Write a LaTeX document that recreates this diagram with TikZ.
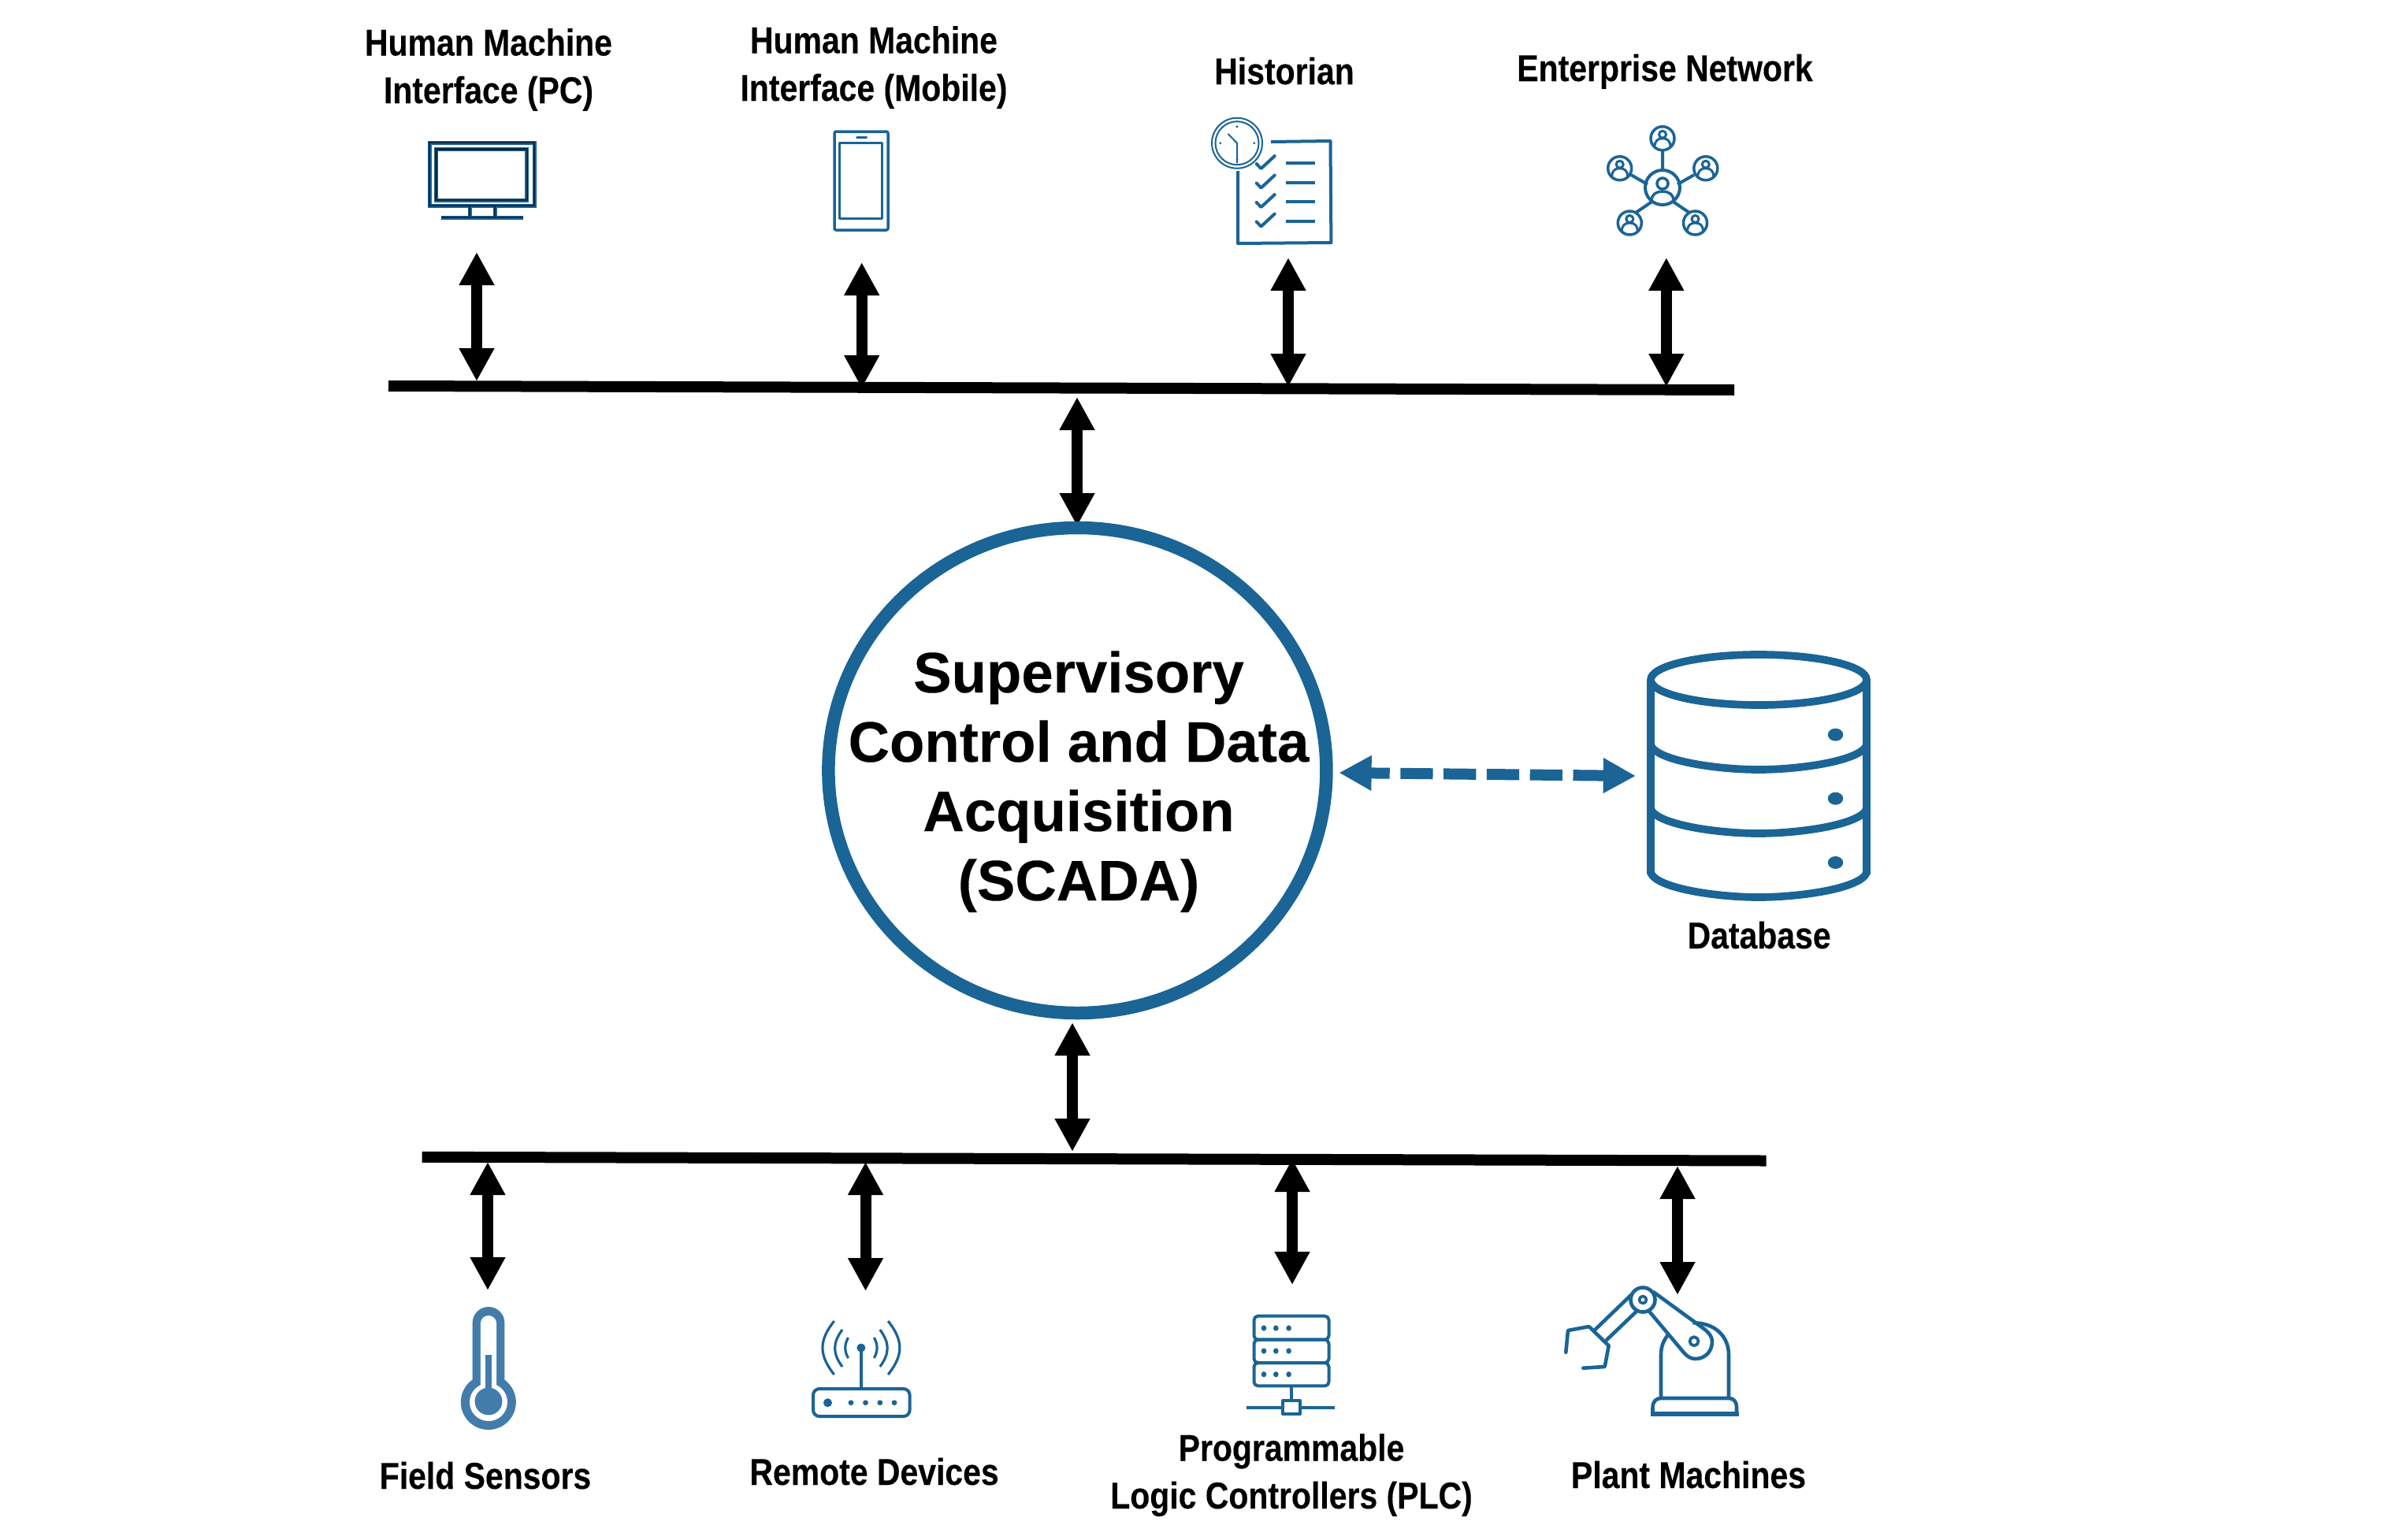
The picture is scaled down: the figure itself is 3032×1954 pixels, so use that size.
\documentclass[tikz,border=0pt]{standalone}
\usepackage{fontspec}
\usetikzlibrary{arrows.meta}
\setmainfont{Liberation Sans}
\newfontfamily\narrowbold[FakeStretch=0.862,FakeBold=0.2]{Liberation Sans Bold}
\newfontfamily\titlebold[FakeBold=0.15]{Liberation Sans Bold}
\definecolor{iconblue}{HTML}{1A6496}
\definecolor{thermoblue}{HTML}{427CAB}
\definecolor{darkcore}{HTML}{0B2A44}
\tikzset{
  lbl/.style={font=\narrowbold\fontsize{47.5}{60.5}\selectfont,inner sep=0pt,anchor=base,align=center,text=black},
  title/.style={font=\titlebold\fontsize{72.6}{88}\selectfont,inner sep=0pt,anchor=base,align=center,text=black},
  busline/.style={line width=14pt,black},
  linkarrow/.style={line width=14pt,black,{Triangle[length=42pt,width=42pt]}-{Triangle[length=42pt,width=42pt]}},
  dbarrow/.style={line width=14pt,iconblue,dash pattern=on 41.2pt off 13.6pt,dash phase=15.5pt,{Triangle[length=41.2pt,width=42pt]}-{Triangle[length=41.2pt,width=42pt]}},
  ico/.style={iconblue,line width=4pt,line join=round},
  person/.pic={
    \draw[iconblue,line width=3pt] (0,-5) circle[radius=4.5];
    \draw[iconblue,line width=3pt] (-10,11) .. controls (-10,3) and (-6,0) .. (0,0) .. controls (6,0) and (10,3) .. (10,11);
    \draw[iconblue,line width=3.5pt] (0,0) circle[radius=15];
  }
}
\begin{document}
\begin{tikzpicture}[x=1pt,y=-1pt]
\useasboundingbox (0,0) rectangle (3032,1954);
% text labels
\node[lbl] (hmipc) at (620,131) {Human Machine\\Interface (PC)};
\node[lbl] (hmimob) at (1109,128) {Human Machine\\Interface (Mobile)};
\node[lbl] (hist) at (1630,107) {Historian};
\node[lbl] (ent) at (2113,103) {Enterprise Network};
\node[lbl] (dblabel) at (2232.6,1204) {Database};
\node[lbl] (field) at (616,1890) {Field Sensors};
\node[lbl] (remote) at (1109.6,1885) {Remote Devices};
\node[lbl] (plc) at (1639,1915) {Programmable\\Logic Controllers (PLC)};
\node[lbl] (plant) at (2143,1889) {Plant Machines};
% buses
\coordinate (topL) at (493,490); \coordinate (topR) at (2201,495);
\coordinate (botL) at (535.7,1468.8); \coordinate (botR) at (2241.5,1473.5);
\draw[busline] (topL) -- (topR);
\draw[busline] (botL) -- (botR);
% arrow end points
\coordinate (a1t) at (605,320); \coordinate (a1b) at (605,484);
\coordinate (a2t) at (1093.7,333); \coordinate (a2b) at (1093.7,493);
\coordinate (a3t) at (1635,327); \coordinate (a3b) at (1635,491);
\coordinate (a4t) at (2114.8,327); \coordinate (a4b) at (2114.8,491);
\coordinate (c1t) at (1367,504); \coordinate (c1b) at (1367,668);
\coordinate (c2t) at (1361,1298); \coordinate (c2b) at (1361,1462);
\coordinate (b1t) at (619,1475); \coordinate (b1b) at (619,1638);
\coordinate (b2t) at (1098.5,1475); \coordinate (b2b) at (1098.5,1639);
\coordinate (b3t) at (1640,1471); \coordinate (b3b) at (1640,1631);
\coordinate (b4t) at (2129,1480); \coordinate (b4b) at (2129,1644);
\foreach \p in {a1,a2,a3,a4,c1,c2,b1,b2,b3,b4}{\draw[linkarrow] (\p t) -- (\p b);}
% centre circle
\draw[iconblue,line width=16.5pt] (1367.4,978) ellipse[x radius=316,y radius=308];
\node[title] (scada) at (1369,1143) {Supervisory\\Control and Data\\Acquisition\\(SCADA)};
\coordinate (dbL) at (1699.4,981); \coordinate (dbR) at (2076,985);
\draw[dbarrow] (dbL) -- (dbR);
% monitor
\foreach \c/\w in {iconblue/5pt,darkcore/2.4pt}{
  \draw[\c,line width=\w] (545,181) rectangle (678,261);
  \draw[\c,line width=\w] (553.5,189.5) rectangle (668.7,254);
  \draw[\c,line width=\w] (596,261) -- (596,276) (628,261) -- (628,276) (560,276) -- (664,276);
}
% phone
\draw[ico,line width=3.5pt,rounded corners=2pt] (1059,167) rectangle (1127,292);
\draw[ico,line width=3.5pt] (1065.5,181.5) rectangle (1119.5,277.5);
\draw[ico,line width=3pt,line cap=round] (1087.5,174.3) -- (1099.5,174.3);
% historian paper
\draw[ico] (1613,180) -- (1688.5,179) -- (1689.4,308) -- (1571,309) -- (1571,217);
\foreach \i/\dy in {0/0,1/24.5,2/49,3/73.5}{
  \draw[ico,line cap=round] (1594.7,208+\dy) -- (1600.5,214+\dy) -- (1617.7,198+\dy);
  \draw[ico] (1632,207.3+\dy) -- (1669,207.3+\dy);
}
% clock
\draw[iconblue,line width=2pt,fill=white] (1570,181.7) circle[radius=32];
\draw[iconblue,line width=2pt] (1570,181.7) circle[radius=27.5];
\draw[iconblue,line width=2pt] (1558.6,170) -- (1570,181.7) -- (1570,207);
\foreach \x/\y in {1570/160.7,1570/202.3,1548.8/181.7,1591.8/181.7}{\fill[iconblue] (\x,\y) circle[radius=1.6];}
% network
\draw[ico] (2110,192) -- (2110,215) (2070,222) -- (2091,234) (2150,222) -- (2129,234)
  (2076,270) -- (2098,255) (2144,270) -- (2122,255);
\draw[iconblue,line width=4pt] (2110,238) circle[radius=22];
\draw[iconblue,line width=3.5pt] (2110,233) circle[radius=7];
\draw[iconblue,line width=3.5pt] (2096,255) .. controls (2096,246) and (2103,243) .. (2110,243) .. controls (2117,243) and (2124,246) .. (2124,255);
\foreach \x/\y in {2110/175.7,2055.7/213.7,2164.8/213.7,2068.3/283,2151.5/283}{
  \pic at (\x,\y) {person};
}
% database
\begin{scope}[iconblue,line width=9.7pt]
\draw (2232,863) ellipse[x radius=137,y radius=32];
\draw (2095,863) -- (2095,1108) .. controls (2103,1128) and (2180,1139) .. (2232,1139) .. controls (2284,1139) and (2361,1128) .. (2369,1108) -- (2369,863);
\draw (2095,946) .. controls (2103,966) and (2180,977) .. (2232,977) .. controls (2284,977) and (2361,966) .. (2369,946);
\draw (2095,1027) .. controls (2103,1047) and (2180,1058) .. (2232,1058) .. controls (2284,1058) and (2361,1047) .. (2369,1027);
\end{scope}
\foreach \y in {932.7,1013.7,1095}{\fill[iconblue] (2329.5,\y) ellipse[x radius=9.7,y radius=8];}
% thermometer
\fill[thermoblue] (599.6,1751.7) -- (599.6,1679.4) arc[start angle=180,end angle=360,radius=20.4] -- (640.4,1751.7) arc[start angle=-54,end angle=234,radius=35] -- cycle;
\fill[white] (609.8,1758.3) -- (609.8,1680.2) arc[start angle=180,end angle=360,radius=10.2] -- (630.2,1758.3) arc[start angle=-64.8,end angle=244.8,radius=24] -- cycle;
\fill[thermoblue] (616.4,1720) rectangle (623.6,1770);
\fill[thermoblue] (620,1779) circle[radius=17.4];
% router
\draw[ico,rounded corners=8pt] (1032,1763) rectangle (1154.6,1798);
\draw[ico,line width=3.5pt] (1092.9,1763) -- (1092.9,1711);
\fill[iconblue] (1092.9,1711) ellipse[x radius=5.5,y radius=5.5];
\fill[iconblue] (1050.5,1780.7) circle[radius=5.5];
\foreach \x in {1080,1098.5,1116.8,1135}{\fill[iconblue] (\x,1780.7) circle[radius=3.4];}
\begin{scope}[iconblue,line width=3.2pt]
\draw (1076.5,1698) .. controls (1071.5,1707) and (1071.5,1715) .. (1076.5,1724);
\draw (1069,1688) .. controls (1056.5,1705) and (1056.5,1718) .. (1069,1735);
\draw (1058.7,1677) .. controls (1039,1702) and (1039,1720) .. (1058.7,1745);
\draw (1109.3,1698) .. controls (1114.3,1707) and (1114.3,1715) .. (1109.3,1724);
\draw (1116.8,1688) .. controls (1129.3,1705) and (1129.3,1718) .. (1116.8,1735);
\draw (1127.1,1677) .. controls (1146.8,1702) and (1146.8,1720) .. (1127.1,1745);
\end{scope}
% PLC servers
\foreach \t/\b/\d in {1670.7/1700.7/1686,1700.7/1730/1715,1730/1759.3/1744.7}{
  \draw[ico,rounded corners=5pt] (1591.5,\t) rectangle (1686.5,\b);
  \foreach \x in {1604,1619.3,1635.6}{\fill[iconblue] (\x,\d) ellipse[x radius=3.3,y radius=3.6];}
}
\draw[ico] (1638.7,1759.3) -- (1638.7,1778);
\draw[ico] (1582,1786.7) -- (1628,1786.7) (1650,1786.7) -- (1694,1786.7);
\draw[ico] (1628,1778) rectangle (1650,1795);
% robot
\begin{scope}[iconblue,line width=4.6pt,line join=round]
\draw (2097.5,1797) -- (2097.5,1787) .. controls (2097.5,1779) and (2102,1775) .. (2108,1775) -- (2194,1775) .. controls (2200,1775) and (2204,1779) .. (2204,1787) -- (2204,1797);
\draw[line width=5.5pt] (2095,1795) -- (2206.7,1795);
\draw (2108,1775) -- (2108,1720) .. controls (2108,1710) and (2111,1702) .. (2116.7,1695);
\draw (2194,1775) -- (2194,1720) .. controls (2194,1696) and (2176,1679) .. (2148.3,1679.3);
\draw (2098.3,1640) -- (2160,1685) .. controls (2170,1692) and (2174,1698) .. (2172.7,1706.7) .. controls (2171,1718) and (2162,1725) .. (2151.7,1725) .. controls (2146,1725) and (2141,1722) .. (2136.7,1716.7) -- (2093.3,1665);
\draw (2085,1650) circle[radius=15.5];
\draw[line width=3.6pt] (2085,1650) circle[radius=4.5];
\draw[line width=3.8pt] (2150,1702.7) circle[radius=5.5];
\draw (2070.7,1643.3) -- (2024,1688.3) (2076.7,1665) -- (2038.3,1701.7);
\draw[line cap=round] (1987.3,1716.7) -- (1990,1689) -- (2016.7,1684) -- (2041.7,1708.3) -- (2036.7,1735) -- (2009.3,1736.7);
\end{scope}
\end{tikzpicture}
\end{document}
